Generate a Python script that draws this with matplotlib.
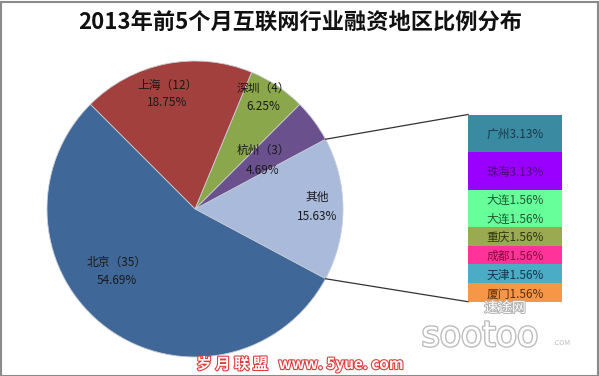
import numpy as np
import matplotlib
matplotlib.use("Agg")
import matplotlib.pyplot as plt
from matplotlib.patches import Rectangle
import matplotlib.patheffects as pe

plt.rcParams['font.family'] = ['Noto Sans CJK SC', 'DejaVu Sans']

title = "2013年前5个月互联网行业融资地区比例分布"

# Pie data (counter-clockwise from the right)
pie_labels = ["其他", "杭州（3）", "深圳（4）", "上海（12）", "北京（35）"]
pie_pcts = ["15.63%", "4.69%", "6.25%", "18.75%", "54.69%"]
pie_counts = [10, 3, 4, 12, 35]
pie_colors = ["#A9BADA", "#6B508E", "#8AA74C", "#A2403D", "#3F6898"]

# Breakdown of "其他" (top to bottom)
bar_labels = ["广州", "珠海", "大连", "大连", "重庆", "成都", "天津", "厦门"]
bar_values = [3.13, 3.13, 1.56, 1.56, 1.56, 1.56, 1.56, 1.56]
bar_colors = ["#3A8AA2", "#9A00FF", "#66FF99", "#66FF99", "#9AAA50", "#FF3399", "#4BACC6", "#F79646"]
bar_text_colors = ["#183848", "#4A0A80", "#1D5A33", "#1D5A33", "#2E3515", "#8A0A3A", "#163848", "#5A2E08"]

W, H = 599, 376
fig = plt.figure(figsize=(W / 100, H / 100), dpi=100)
ax = fig.add_axes([0, 0, 1, 1])

def py(y):
    return H - y

# Pie
cx, cy, r = 195, py(209), 148
start = -360 * pie_counts[0] / sum(pie_counts) / 2
wedges, _ = ax.pie(pie_counts, colors=pie_colors, startangle=start, counterclock=True,
                   center=(cx, cy), radius=r, frame=True,
                   wedgeprops=dict(edgecolor="#C8CCD8", linewidth=0.6))
ax.set_xlim(0, W)
ax.set_ylim(0, H)
ax.set_aspect('equal')
ax.axis('off')

label_pos = [(317, 197, 216), (263, 150, 170), (263, 88, 107), (167, 85, 103), (117, 262, 281)]
for (x, y1, y2), lab, pct in zip(label_pos, pie_labels, pie_pcts):
    ax.text(x, py(y1), lab, ha='center', va='center', fontsize=8.5, color="#1A1A1A")
    ax.text(x, py(y2), pct, ha='center', va='center', fontsize=8.5, color="#1A1A1A")

# Stacked bar
bx, bw = 515, 94
top_px, bot_px = 114.5, 301.7
scale = (bot_px - top_px) / sum(bar_values)
heights = [v * scale for v in bar_values]
bottoms = []
acc = py(top_px)
for h in heights:
    acc -= h
    bottoms.append(acc)
bars = ax.bar([bx] * len(bar_values), heights, bottom=bottoms, width=bw,
              color=bar_colors, edgecolor='none')
for b, lab, v, tc in zip(bars, bar_labels, bar_values, bar_text_colors):
    ax.text(b.get_x() + b.get_width() / 2, b.get_y() + b.get_height() / 2 - 1.5,
            f"{lab}{v:.2f}%", ha='center', va='center', fontsize=8.5, color=tc)

# Connector lines
w0 = wedges[0]
t1, t2 = np.deg2rad(w0.theta1), np.deg2rad(w0.theta2)
bar_left = bx - bw / 2
bar_top = bottoms[0] + heights[0]
bar_bot = bottoms[-1]
ax.plot([cx + r * np.cos(t2), bar_left], [cy + r * np.sin(t2), bar_top], color="#333333", lw=0.9)
ax.plot([cx + r * np.cos(t1), bar_left], [cy + r * np.sin(t1), bar_bot], color="#333333", lw=0.9)

# Title
ax.text(300, py(22), title, ha='center', va='center', fontsize=16, fontweight='bold', color="#111111")

# Watermarks
ax.text(300, py(364), "岁 月 联 盟   www. 5yue. com", ha='center', va='center', fontsize=11,
        color='white', fontweight='bold',
        path_effects=[pe.withStroke(linewidth=1.6, foreground="#E23A3A")])
ax.text(505, py(308), "速途网", ha='center', va='center', fontsize=10, color='white', style='italic',
        path_effects=[pe.withStroke(linewidth=1.4, foreground="#B0B0B0")])
ax.text(480, py(336), "sootoo", ha='center', va='center', fontsize=25, color='white',
        family=['DejaVu Sans'],
        path_effects=[pe.withStroke(linewidth=2.0, foreground="#BDBDBD")])
ax.text(562, py(343), ".COM", ha='center', va='center', fontsize=5, color="#BBBBBB")

# Frame
fig.patches.append(Rectangle((0.5 / W, 0.5 / H), 1 - 2 / W, 1 - 2 / H, transform=fig.transFigure,
                             fill=False, edgecolor="#8A8A8A", linewidth=1.5))

fig.savefig("out.png", dpi=100)
